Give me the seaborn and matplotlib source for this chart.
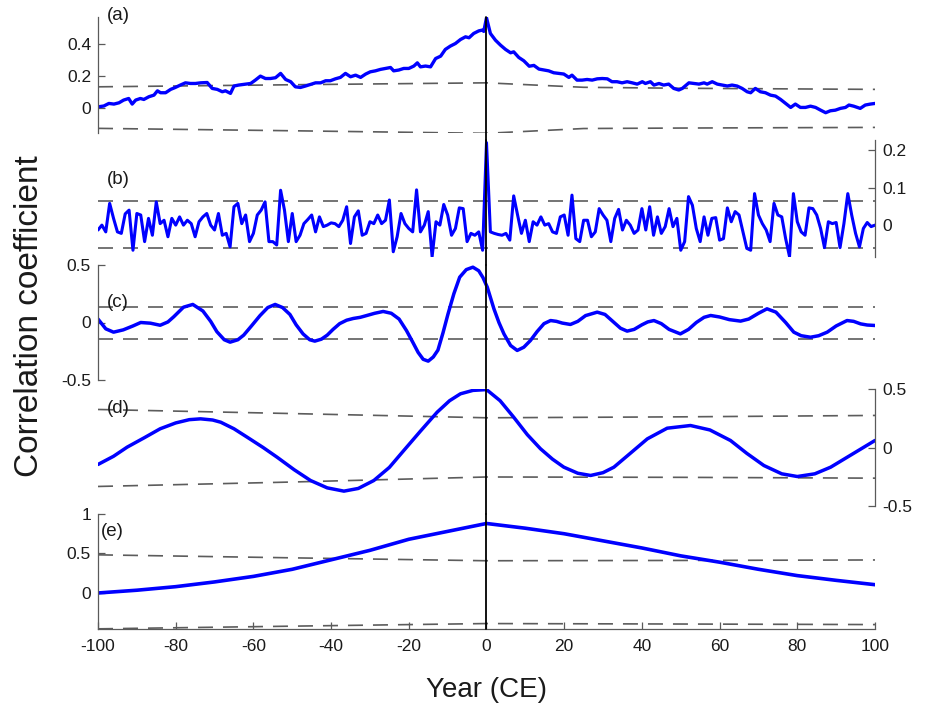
import numpy as np
import pandas as pd
import matplotlib
matplotlib.use("Agg")
import matplotlib.pyplot as plt
import seaborn as sns
from matplotlib.ticker import FuncFormatter

# ---------------- data ----------------
a_lag = [-99.9, -98.5, -97.2, -95.9, -94.6, -93.4, -92.1, -91.2, -90.3, -89.1, -88.2, -86.9, -85.6, -84.7,
         -83.9, -82.6, -81.3, -80.1, -78.8, -77.5, -76.2, -74.9, -73.6, -71.9, -70.6, -69.3, -68.0, -67.2,
         -65.9, -65.0, -63.8, -62.0, -60.7, -59.5, -58.2, -56.9, -55.6, -54.3, -53.0, -51.7, -50.4, -49.2,
         -47.9, -46.6, -45.3, -44.0, -42.7, -41.4, -40.2, -38.9, -37.6, -36.3, -35.0, -33.7, -32.4, -31.1,
         -29.9, -28.6, -27.3, -26.0, -24.7, -23.9, -22.6, -21.3, -20.0, -18.7, -17.8, -17.0, -15.7, -14.4,
         -13.1, -11.8, -10.6, -9.3, -8.0, -6.7, -5.4, -4.5, -3.3, -2.0, -1.1, -0.7, 0.0,
         1.0, 2.3, 3.6, 4.9, 6.2, 7.0, 8.3, 9.6, 11.0, 12.2, 13.5, 14.8, 16.0, 17.3, 18.6, 19.9, 21.2, 22.0,
         23.3, 24.6, 25.9, 27.2, 28.5, 29.8, 31.1, 32.3, 33.6, 34.9, 36.2, 37.5, 38.8, 40.1, 40.9, 42.2,
         43.1, 44.4, 45.6, 46.9, 48.2, 49.5, 50.4, 52.1, 53.4, 54.7, 56.0, 56.8, 58.1, 59.4, 60.7, 62.0,
         63.2, 64.5, 65.8, 67.1, 68.0, 69.2, 70.5, 71.8, 73.1, 74.4, 75.7, 77.0, 78.3, 79.5, 80.8, 82.1,
         83.4, 84.7, 86.0, 87.3, 88.5, 89.8, 91.1, 92.4, 93.3, 94.5, 96.2, 97.5, 98.8, 100.0]
a_val = [0.008, 0.013, 0.029, 0.025, 0.033, 0.050, 0.060, 0.025, 0.050, 0.060, 0.054, 0.071, 0.081, 0.108,
         0.096, 0.096, 0.117, 0.129, 0.144, 0.158, 0.154, 0.154, 0.158, 0.160, 0.123, 0.117, 0.102, 0.108,
         0.092, 0.138, 0.144, 0.150, 0.154, 0.175, 0.200, 0.185, 0.185, 0.190, 0.217, 0.179, 0.165, 0.133,
         0.129, 0.138, 0.148, 0.158, 0.158, 0.171, 0.171, 0.183, 0.192, 0.217, 0.196, 0.206, 0.192, 0.213,
         0.227, 0.233, 0.242, 0.248, 0.254, 0.233, 0.238, 0.248, 0.248, 0.263, 0.283, 0.258, 0.263, 0.258,
         0.310, 0.325, 0.367, 0.388, 0.404, 0.429, 0.446, 0.440, 0.467, 0.483, 0.488, 0.480, 0.565,
         0.467, 0.425, 0.394, 0.367, 0.346, 0.352, 0.317, 0.296, 0.262, 0.267, 0.244, 0.238, 0.233, 0.221,
         0.217, 0.213, 0.192, 0.206, 0.175, 0.175, 0.179, 0.175, 0.183, 0.185, 0.183, 0.165, 0.165, 0.158,
         0.165, 0.158, 0.150, 0.165, 0.154, 0.165, 0.144, 0.154, 0.144, 0.150, 0.123, 0.113, 0.123, 0.158,
         0.154, 0.150, 0.158, 0.150, 0.165, 0.150, 0.144, 0.138, 0.144, 0.138, 0.123, 0.102, 0.096, 0.123,
         0.102, 0.096, 0.081, 0.075, 0.054, 0.029, 0.004, 0.025, 0.004, 0.004, 0.012, 0.004, -0.013, -0.029,
         -0.017, -0.013, -0.002, 0.004, 0.019, 0.012, -0.002, 0.019, 0.025, 0.029]

b_lag = list(range(-100, 101))
b_val = [-0.013, 0.000, -0.018, 0.058, 0.018, -0.018, -0.022, 0.030, 0.040, -0.067,   # -100..-91
         0.031, 0.027, -0.044, 0.018, -0.027, 0.062, 0.004, 0.013, -0.031, 0.018,     # -90..-81
         0.000, 0.022, 0.000, 0.013, 0.004, -0.031, 0.009, 0.022, 0.031, 0.000,       # -80..-71
         -0.013, 0.031, -0.027, -0.022, -0.058, 0.049, 0.058, 0.004, 0.027, -0.044,   # -70..-61
         -0.022, 0.027, 0.040, 0.062, -0.044, -0.044, -0.053, 0.093, 0.040, -0.044,   # -60..-51
         0.031, -0.044, -0.027, 0.004, 0.015, 0.027, -0.018, 0.022, -0.004, 0.000,    # -50..-41
         0.006, 0.004, -0.004, 0.013, 0.049, -0.049, 0.022, 0.038, -0.027, -0.022,    # -40..-31
         0.009, 0.004, 0.027, 0.004, 0.013, 0.067, -0.071, -0.031, 0.031, 0.004,      # -30..-21
         -0.009, -0.018, 0.094, -0.018, 0.000, 0.036, -0.084, 0.009, 0.000, 0.055,    # -20..-11
         0.027, -0.027, -0.009, 0.046, 0.044, -0.044, -0.022, -0.027, -0.018, -0.067, # -10..-1
         0.220,                                                                      # 0
         -0.018, -0.022, -0.025, -0.027, -0.022, -0.040, 0.078, 0.027, -0.022, 0.013, # 1..10
         -0.044, 0.009, 0.000, 0.022, 0.000, 0.004, -0.018, -0.022, 0.022, 0.027,     # 11..20
         -0.027, 0.080, -0.036, -0.044, 0.013, 0.013, -0.031, -0.018, 0.044, 0.027,   # 21..30
         0.013, -0.044, 0.018, 0.042, -0.013, 0.013, 0.000, -0.022, -0.013, 0.044,    # 31..40
         -0.013, 0.049, -0.027, 0.022, -0.022, -0.004, 0.044, -0.004, 0.018, -0.067,  # 41..50
         -0.044, 0.076, 0.053, -0.009, -0.044, 0.022, -0.027, 0.018, 0.020, -0.040,   # 51..60
         -0.036, 0.046, 0.009, 0.036, 0.027, -0.018, -0.062, -0.067, 0.084, 0.027,    # 61..70
         0.004, -0.013, -0.044, 0.058, 0.027, 0.022, -0.036, -0.084, 0.084, 0.009,    # 71..80
         -0.018, -0.027, 0.046, 0.044, 0.027, -0.009, -0.060, 0.009, 0.004, 0.007,    # 81..90
         -0.060, 0.004, 0.084, 0.027, -0.022, -0.058, -0.009, 0.007, -0.004, 0.000]   # 91..100

c_lag = [-100, -98, -96, -93.5, -91, -89, -86.5, -84, -82, -80.5, -78, -75.6, -73, -71, -69.4, -67.5, -66,
         -64, -62.5, -60.5, -58.3, -56.3, -54.4, -52.5, -50.6, -49, -47.2, -45.5, -44.2, -42.5, -41, -39.5,
         -37.8, -36, -34.3, -32.5, -30.9, -28.8, -26.6, -24.5, -22.5, -20.6, -19, -17.6, -16.3, -15, -13.7,
         -12.5, -11.2, -9.9, -8.4, -6.9, -5.2, -3.5, -2, -0.9, 0.2, 1.9, 3.2, 4.5, 6.2, 7.9, 9.6, 11.3, 13,
         14.8, 16.5, 18, 19.5, 21.6, 23.5, 25.5, 28.5, 30.5, 32.5, 34.5, 36.2, 38, 40, 41.5, 43.1, 45, 47,
         49.9, 52, 54, 56, 57.7, 60, 62.5, 65.4, 67.5, 70, 72.2, 74.5, 77, 79.1, 81, 83.4, 85.5, 87.7, 90,
         92.8, 94.5, 96.3, 98, 100]
c_val = [0.03, -0.055, -0.084, -0.064, -0.03, 0.0, -0.006, -0.024, 0.005, 0.05, 0.133, 0.157, 0.10, 0.01,
         -0.08, -0.15, -0.171, -0.15, -0.11, -0.03, 0.06, 0.13, 0.157, 0.13, 0.07, -0.02, -0.10, -0.15,
         -0.162, -0.145, -0.11, -0.06, -0.01, 0.02, 0.035, 0.045, 0.06, 0.08, 0.096, 0.08, 0.03, -0.07,
         -0.17, -0.26, -0.32, -0.336, -0.30, -0.24, -0.09, 0.075, 0.25, 0.394, 0.46, 0.481, 0.45, 0.39,
         0.307, 0.12, 0.0, -0.10, -0.20, -0.243, -0.215, -0.157, -0.08, -0.01, 0.017, 0.01, -0.005, -0.017,
         0.01, 0.06, 0.09, 0.07, 0.01, -0.05, -0.075, -0.06, -0.02, 0.005, 0.017, -0.01, -0.06, -0.099,
         -0.06, 0.0, 0.045, 0.061, 0.048, 0.025, 0.012, 0.03, 0.08, 0.119, 0.09, 0.0, -0.084, -0.115,
         -0.128, -0.115, -0.084, -0.03, 0.017, 0.01, -0.012, -0.022, -0.026]

d_lag = [-100, -96, -92.5, -88, -84, -80, -76.5, -73.6, -70.5, -68.4, -65, -61.6, -57.5, -53.9, -49.5,
         -45.3, -41, -36.7, -33, -29, -25, -21.3, -17, -12.7, -9.5, -6.7, -3.5, 0, 3.5, 7, 10.5, 13.9, 17,
         19.9, 23.5, 26.8, 30, 32.8, 37, 41.4, 46.5, 52.5, 57.5, 62.8, 67, 71.4, 76, 80, 84.5, 88.6, 94, 100]
d_val = [-0.145, -0.075, 0.003, 0.085, 0.16, 0.21, 0.238, 0.245, 0.235, 0.216, 0.16, 0.088, 0.0, -0.083,
         -0.19, -0.282, -0.345, -0.373, -0.35, -0.282, -0.17, -0.026, 0.14, 0.302, 0.40, 0.459, 0.488,
         0.495, 0.40, 0.259, 0.11, -0.011, -0.10, -0.168, -0.22, -0.239, -0.215, -0.168, -0.05, 0.074,
         0.165, 0.188, 0.15, 0.06, -0.05, -0.154, -0.225, -0.248, -0.225, -0.168, -0.06, 0.06]

e_lag = [-100, -90, -80, -70, -60, -50, -40, -30, -20, -10, 0, 10, 20, 30, 40, 50, 60, 70, 80, 90, 100]
e_val = [0.0, 0.035, 0.08, 0.14, 0.21, 0.30, 0.42, 0.54, 0.68, 0.78, 0.88, 0.82, 0.75, 0.66, 0.57,
         0.47, 0.39, 0.30, 0.22, 0.16, 0.105]

# significance bounds (dashed)
a_blag = [-100, -50, 0, 25, 50, 100]
a_up = [0.133, 0.146, 0.158, 0.130, 0.124, 0.117]
a_lo = [-0.127, -0.142, -0.158, -0.128, -0.125, -0.121]
b_blag = [-100, 100]
b_up = [0.065, 0.065]
b_lo = [-0.061, -0.061]
c_blag = [-100, 100]
c_up = [0.133, 0.133]
c_lo = [-0.140, -0.140]
d_blag = [-100, -50, 0, 50, 100]
d_up = [0.325, 0.290, 0.254, 0.262, 0.274]
d_lo = [-0.333, -0.295, -0.252, -0.255, -0.262]
e_blag = [-100, -50, 0, 50, 100]
e_up = [0.483, 0.445, 0.408, 0.412, 0.418]
e_lo = [-0.454, -0.420, -0.387, -0.393, -0.400]

panel_names = ["(a)", "(b)", "(c)", "(d)", "(e)"]
x_ticks = [-100, -80, -60, -40, -20, 0, 20, 40, 60, 80, 100]

# ---------------- style ----------------
sns.set_style("white")
plt.rcParams['font.family'] = ['Liberation Sans', 'DejaVu Sans']
plt.rcParams['axes.unicode_minus'] = False

fig = plt.figure(figsize=(9.28, 7.11), dpi=100)

SPINE = '#5a5a5a'
BLUE = '#0000ff'
DASH = '#5c5c5c'
TXT = '#1a1a1a'

L, W = 98 / 928, 777 / 928


def rect(top, bot):
    return [L, 1 - bot / 711, W, (bot - top) / 711]


panels = [
    dict(r=rect(17, 133), lag=a_lag, val=a_val, bl=a_blag, up=a_up, lo=a_lo, lw=2.4,
         ylim=(-0.156, 0.57), yt=[0, 0.2, 0.4], side='left', lab=(0.012, 1.015)),
    dict(r=rect(140, 257), lag=b_lag, val=b_val, bl=b_blag, up=b_up, lo=b_lo, lw=2.2,
         ylim=(-0.085, 0.227), yt=[0, 0.1, 0.2], side='right', lab=(0.012, 0.66)),
    dict(r=rect(265, 380), lag=c_lag, val=c_val, bl=c_blag, up=c_up, lo=c_lo, lw=2.5,
         ylim=(-0.5, 0.5), yt=[-0.5, 0, 0.5], side='left', lab=(0.012, 0.67)),
    dict(r=rect(389, 506), lag=d_lag, val=d_val, bl=d_blag, up=d_up, lo=d_lo, lw=2.5,
         ylim=(-0.5, 0.5), yt=[-0.5, 0, 0.5], side='right', lab=(0.012, 0.83)),
    dict(r=rect(514, 629), lag=e_lag, val=e_val, bl=e_blag, up=e_up, lo=e_lo, lw=2.6,
         ylim=(-0.456, 1.0), yt=[0, 0.5, 1], side='left', lab=(0.004, 0.845)),
]

fmt = FuncFormatter(lambda v, p: ('%g' % v))

for i, p in enumerate(panels):
    ax = fig.add_axes(p['r'])
    ax.set_facecolor('none')
    sns.lineplot(x=p['bl'], y=p['up'], ax=ax, color=DASH, lw=1.2, linestyle=(0, (9, 6)))
    sns.lineplot(x=p['bl'], y=p['lo'], ax=ax, color=DASH, lw=1.2, linestyle=(0, (9, 6)))
    sns.lineplot(x=p['lag'], y=p['val'], ax=ax, color=BLUE, lw=p['lw'])
    last = (i == len(panels) - 1)
    ax.axvline(0, color='black', lw=1.3, ymin=(0 if last else -0.07), ymax=1.0, clip_on=False, zorder=5)
    ax.set_xlim(-100, 100)
    ax.set_ylim(*p['ylim'])
    ax.set_yticks(p['yt'])
    ax.yaxis.set_major_formatter(fmt)
    for s in ['top', 'right', 'left', 'bottom']:
        ax.spines[s].set_visible(False)
        ax.spines[s].set_color(SPINE)
        ax.spines[s].set_linewidth(0.9)
    ax.spines[p['side']].set_visible(True)
    if p['side'] == 'right':
        ax.yaxis.tick_right()
        ax.tick_params(axis='y', right=True, left=False, labelright=True, labelleft=False)
    else:
        ax.tick_params(axis='y', left=True, right=False)
    ax.tick_params(axis='y', direction='in', length=5, width=0.9, color=SPINE,
                   labelsize=12.5, labelcolor=TXT, pad=5)
    if last:
        ax.spines['bottom'].set_visible(True)
        ax.set_xticks(x_ticks)
        ax.xaxis.set_major_formatter(fmt)
        ax.tick_params(axis='x', bottom=True, direction='in', length=5, width=0.9, color=SPINE,
                       labelsize=12.5, labelcolor=TXT, pad=7)
    else:
        ax.set_xticks([])
    ax.set_xlabel('')
    ax.set_ylabel('')
    ax.text(p['lab'][0], p['lab'][1], panel_names[i], transform=ax.transAxes,
            fontsize=13.5, color=TXT, ha='left', va='center')

fig.text(487 / 928, 1 - 690 / 711, 'Year (CE)', ha='center', va='center', fontsize=20, color=TXT)
fig.text(30 / 928, 1 - 316 / 711, 'Correlation coefficient', ha='center', va='center',
         rotation=90, fontsize=24, color=TXT)

fig.savefig('out.png', dpi=100)
